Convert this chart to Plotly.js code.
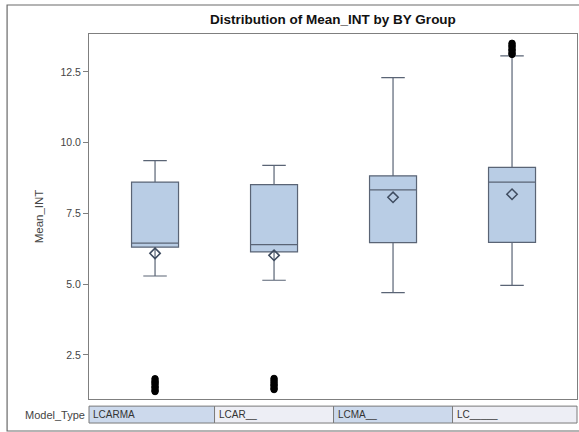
<!DOCTYPE html>
<html>
<head>
<meta charset="utf-8">
<script src="https://cdn.plot.ly/plotly-3.0.1.min.js"></script>
<style>
  html, body { margin: 0; padding: 0; background: #ffffff; }
  #chart { width: 579px; height: 432px; }
</style>
</head>
<body>
<div id="chart"></div>
<script>
// Model types shown along the class strip
const modelTypes = ['LCARMA', 'LCAR__', 'LCMA__', 'LC_____'];

// Box statistics of Mean_INT per model type
const q1Values       = [6.31, 6.14, 6.47, 6.48];
const medianValues   = [6.45, 6.40, 8.33, 8.61];
const q3Values       = [8.61, 8.52, 8.83, 9.13];
const lowerWhisker   = [5.29, 5.14, 4.70, 4.96];
const upperWhisker   = [9.37, 9.20, 12.30, 13.07];
const meanValues     = [6.09, 6.02, 8.07, 8.18];

// Outlying observations per model type
const outliersLCARMA = [1.21, 1.26, 1.34, 1.39, 1.47, 1.53, 1.58, 1.66];
const outliersLCAR   = [1.28, 1.33, 1.41, 1.46, 1.53, 1.60, 1.67];
const outliersLCMA   = [];
const outliersLC     = [13.12, 13.17, 13.25, 13.30, 13.38, 13.44, 13.51];

const yTicks = [2.5, 5.0, 7.5, 10.0, 12.5];

const outlierGroups = [outliersLCARMA, outliersLCAR, outliersLCMA, outliersLC];
const outX = [], outY = [];
outlierGroups.forEach((vals, i) => {
  vals.forEach(v => { outX.push(modelTypes[i]); outY.push(v); });
});

const FONT = 'Liberation Sans, Arial, sans-serif';
const xRange = [-0.555, 3.546];
const toPaperX = v => (v - xRange[0]) / (xRange[1] - xRange[0]);

const boxTrace = {
  type: 'box',
  x: modelTypes,
  q1: q1Values,
  median: medianValues,
  q3: q3Values,
  lowerfence: lowerWhisker,
  upperfence: upperWhisker,
  boxpoints: false,
  boxmean: false,
  width: 0.395,
  whiskerwidth: 0.5,
  fillcolor: '#B9CDE5',
  line: { color: '#5a6475', width: 1.2 },
  hoverinfo: 'skip',
  showlegend: false
};

const meanTrace = {
  type: 'scatter',
  mode: 'markers',
  x: modelTypes,
  y: meanValues,
  marker: { symbol: 'diamond-open', size: 8, color: '#3f4c60', line: { width: 1.5, color: '#3f4c60' } },
  showlegend: false,
  hoverinfo: 'skip'
};

const outlierTrace = {
  type: 'scatter',
  mode: 'markers',
  x: outX,
  y: outY,
  marker: { symbol: 'circle', size: 6.5, color: '#000000', line: { width: 1, color: '#000000' } },
  showlegend: false,
  hoverinfo: 'skip'
};

// class strip below the plot area (paper coordinates)
const stripTop = -0.0195, stripBottom = -0.0658;
const cellEdges = [xRange[0], 0.5, 1.5, 2.5, xRange[1]];
const cellFills = ['#CCD9EC', '#EDEEF5', '#CCD9EC', '#EDEEF5'];
const shapes = [];
const annotations = [];
for (let i = 0; i < modelTypes.length; i++) {
  shapes.push({
    type: 'rect', xref: 'paper', yref: 'paper',
    x0: toPaperX(cellEdges[i]), x1: toPaperX(cellEdges[i + 1]),
    y0: stripBottom, y1: stripTop,
    fillcolor: cellFills[i], line: { color: '#7a7a7a', width: 1 }, layer: 'above'
  });
  annotations.push({
    xref: 'paper', yref: 'paper',
    x: toPaperX(cellEdges[i]), y: (stripTop + stripBottom) / 2,
    xanchor: 'left', yanchor: 'middle', xshift: 2, showarrow: false,
    text: modelTypes[i], font: { family: FONT, size: 10, color: '#333333' }
  });
}
annotations.push({
  xref: 'paper', yref: 'paper', x: 0, y: (stripTop + stripBottom) / 2,
  xanchor: 'right', yanchor: 'middle', xshift: -2, showarrow: false,
  text: 'Model_Type', font: { family: FONT, size: 11, color: '#444444' }
});
// outer graph frame
shapes.push({
  type: 'rect', xref: 'paper', yref: 'paper',
  x0: (7 - 89) / 488.5, x1: 1.02, y0: -0.0877, y1: 1.0795,
  line: { color: '#6a6a6a', width: 1.2 }, fillcolor: 'rgba(0,0,0,0)', layer: 'below'
});

const layout = {
  width: 579, height: 432,
  margin: { l: 89, r: 1.5, t: 34, b: 33 },
  paper_bgcolor: '#ffffff', plot_bgcolor: '#ffffff',
  title: {
    text: '<b>Distribution of Mean_INT by BY Group</b>',
    font: { family: FONT, size: 13.5, color: '#111111' },
    x: 0.5, xref: 'paper', xanchor: 'center', y: 0.955, yref: 'container', yanchor: 'middle'
  },
  xaxis: {
    type: 'category', range: xRange,
    showticklabels: false, ticks: '', showgrid: false, zeroline: false,
    showline: true, mirror: true, linecolor: '#7f7f7f', linewidth: 1
  },
  yaxis: {
    range: [0.945, 13.84],
    tickvals: yTicks, ticktext: yTicks.map(v => v.toFixed(1)),
    ticks: 'outside', ticklen: 5, tickcolor: '#7f7f7f', tickwidth: 1,
    tickfont: { family: FONT, size: 10.5, color: '#444444' },
    showgrid: false, zeroline: false,
    showline: true, mirror: true, linecolor: '#7f7f7f', linewidth: 1,
    title: { text: 'Mean_INT', font: { family: FONT, size: 11.5, color: '#444444' }, standoff: 14 }
  },
  shapes: shapes,
  annotations: annotations
};

Plotly.newPlot('chart', [boxTrace, meanTrace, outlierTrace], layout, { staticPlot: true, displayModeBar: false });
</script>
</body>
</html>
